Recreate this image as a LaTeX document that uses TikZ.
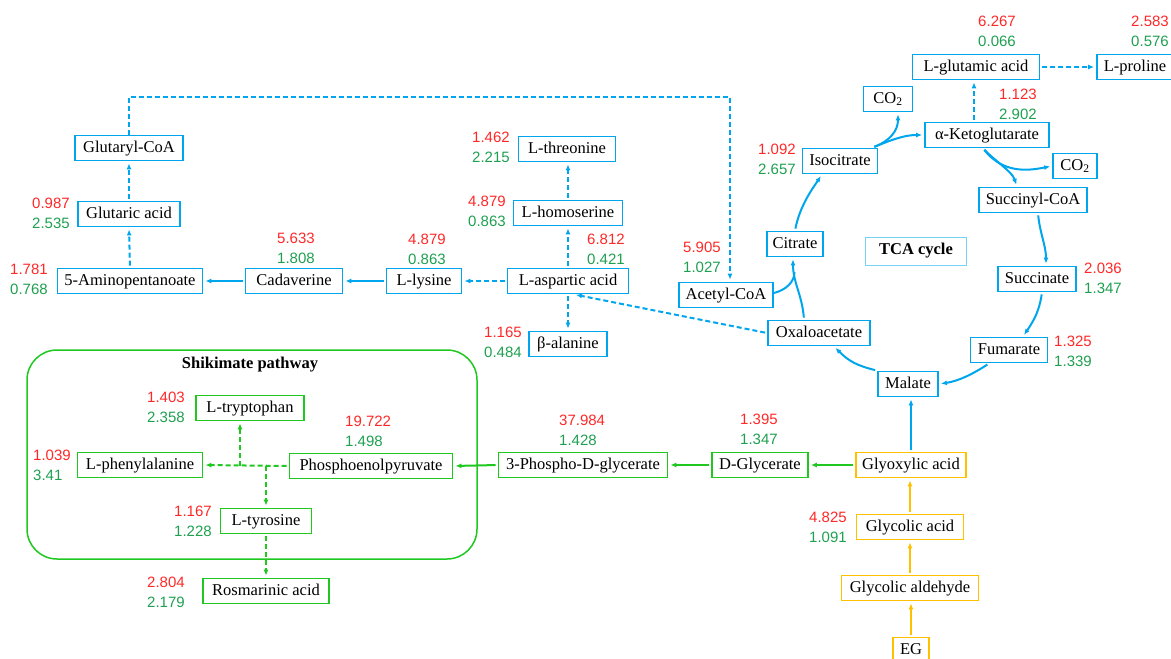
\documentclass[tikz,border=0pt]{standalone}
\usepackage{fontspec}
\setmainfont{Liberation Serif}
\newfontfamily\numfont{Liberation Sans}
\usetikzlibrary{arrows.meta}
\definecolor{cblue}{RGB}{0,166,237}
\definecolor{cgreen}{RGB}{30,200,30}
\definecolor{cyellow}{RGB}{255,192,0}
\definecolor{nred}{RGB}{255,40,40}
\definecolor{ngreen}{RGB}{30,160,80}
\definecolor{tcab}{RGB}{120,210,245}
\newcommand\numpair[2]{\textcolor{nred}{#1}\\\textcolor{ngreen}{#2}}
\begin{document}
\begin{tikzpicture}[x=1pt,y=-1pt,
  box/.style={draw, line width=1.8pt, fill=white, font=\fontsize{16.5}{18}\selectfont,
    minimum height=25pt, inner xsep=3pt, inner ysep=0pt, text height=11.5pt, text depth=3.5pt},
  bbox/.style={box,draw=cblue},
  gbox/.style={box,draw=cgreen},
  ybox/.style={box,draw=cyellow},
  num/.style={font=\numfont\fontsize{15}{20}\selectfont, align=center, inner sep=0pt},
  ar/.style={-{Latex[length=6pt,width=5pt]}, line width=2pt, shorten <=2pt, shorten >=2pt},
  bsol/.style={ar, color=cblue},
  bline/.style={line width=2pt, color=cblue},
  bdash/.style={ar, color=cblue, dash pattern=on 5pt off 3pt},
  gsol/.style={ar, color=cgreen},
  gdash/.style={ar, color=cgreen, dash pattern=on 5pt off 3pt},
  ysol/.style={ar, color=cyellow}]
\useasboundingbox (0,0) rectangle (1171,659);

% Shikimate frame
\draw[cgreen, line width=1.5pt, rounded corners=30pt] (27,350) rectangle (477,559);
\node[font=\bfseries\fontsize{16.5}{18}\selectfont] (shik) at (250,365) {Shikimate pathway};

% blue nodes
\node[bbox,minimum width=108pt] (glutcoa) at (129,148) {Glutaryl-CoA};
\node[bbox,minimum width=102pt] (glutar) at (129,214) {Glutaric acid};
\node[bbox,minimum width=145pt] (amino) at (130,281) {5-Aminopentanoate};
\node[bbox,minimum width=97pt] (cad) at (294,281) {Cadaverine};
\node[bbox,minimum width=75pt] (lys) at (424,281) {L-lysine};
\node[bbox,minimum width=121pt] (asp) at (568,281) {L-aspartic acid};
\node[bbox,minimum width=109pt] (hom) at (568,213) {L-homoserine};
\node[bbox,minimum width=97pt] (thr) at (567,149) {L-threonine};
\node[bbox,minimum width=78pt] (bala) at (568,344) {β-alanine};
\node[bbox,minimum width=94pt] (acet) at (726,295) {Acetyl-CoA};
\node[bbox,minimum width=102pt] (oxa) at (819,333) {Oxaloacetate};
\node[bbox,minimum width=56pt] (cit) at (795,244) {Citrate};
\node[bbox,minimum width=75pt] (iso) at (840,161) {Isocitrate};
\node[bbox,minimum width=49pt] (co2a) at (888,99) {CO\textsubscript{2}};
\node[bbox,minimum width=124pt] (akg) at (987,135) {α-Ketoglutarate};
\node[bbox,minimum width=127pt] (glu) at (976,67) {L-glutamic acid};
\node[bbox,minimum width=76pt] (pro) at (1135,67) {L-proline};
\node[bbox,minimum width=44pt] (co2b) at (1075,166) {CO\textsubscript{2}};
\node[bbox,minimum width=108pt] (sca) at (1033,200) {Succinyl-CoA};
\node[bbox,minimum width=78pt] (suc) at (1037,279) {Succinate};
\node[bbox,minimum width=77pt] (fum) at (1009,350) {Fumarate};
\node[bbox,minimum width=60pt] (mal) at (908,384) {Malate};
\node[draw=tcab, line width=1pt, minimum width=101pt, minimum height=28pt,
  font=\bfseries\fontsize{16.5}{18}\selectfont] (tca) at (916,251) {TCA cycle};

% green nodes
\node[gbox,minimum width=108pt] (trp) at (250,408) {L-tryptophan};
\node[gbox,minimum width=125pt] (phe) at (140,465) {L-phenylalanine};
\node[gbox,minimum width=163pt] (pep) at (371,466) {Phosphoenolpyruvate};
\node[gbox,minimum width=91pt] (tyr) at (266,521) {L-tyrosine};
\node[gbox,minimum width=126pt] (ros) at (266,591) {Rosmarinic acid};
\node[gbox,minimum width=169pt] (pg) at (583,465) {3-Phospho-D-glycerate};
\node[gbox,minimum width=96pt] (dgly) at (760,465) {D-Glycerate};

% yellow nodes
\node[ybox,minimum width=110pt] (glyox) at (911,465) {Glyoxylic acid};
\node[ybox,minimum width=107pt] (glyc) at (910,527) {Glycolic acid};
\node[ybox,minimum width=137pt] (glyald) at (910,588) {Glycolic aldehyde};
\node[ybox,minimum width=36pt] (eg) at (911,650) {EG};

% numbers
\node[num] (nglutar) at (51,213) {\numpair{0.987}{2.535}};
\node[num] (namino) at (29,279) {\numpair{1.781}{0.768}};
\node[num] (ncad) at (296,248) {\numpair{5.633}{1.808}};
\node[num] (nlys) at (427,249) {\numpair{4.879}{0.863}};
\node[num] (nasp) at (606,249) {\numpair{6.812}{0.421}};
\node[num] (nhom) at (487,211) {\numpair{4.879}{0.863}};
\node[num] (nthr) at (491,147) {\numpair{1.462}{2.215}};
\node[num] (nbala) at (503,342) {\numpair{1.165}{0.484}};
\node[num] (nacet) at (702,257) {\numpair{5.905}{1.027}};
\node[num] (niso) at (777,159) {\numpair{1.092}{2.657}};
\node[num] (nglu) at (997,31) {\numpair{6.267}{0.066}};
\node[num] (npro) at (1150,31) {\numpair{2.583}{0.576}};
\node[num] (nakg) at (1018,104) {\numpair{1.123}{2.902}};
\node[num] (nsuc) at (1103,278) {\numpair{2.036}{1.347}};
\node[num] (nfum) at (1073,351) {\numpair{1.325}{1.339}};
\node[num] (ntrp) at (166,407) {\numpair{1.403}{2.358}};
\node[num,align=left,anchor=west] (nphe) at (33,465) {\numpair{1.039}{3.41}};
\node[num,align=left,anchor=west] (npep) at (345,431) {\numpair{19.722}{1.498}};
\node[num,align=left,anchor=west] (npg) at (559,430) {\numpair{37.984}{1.428}};
\node[num] (ndgly) at (759,429) {\numpair{1.395}{1.347}};
\node[num] (ntyr) at (193,521) {\numpair{1.167}{1.228}};
\node[num] (nros) at (166,592) {\numpair{2.804}{2.179}};
\node[num] (nglyc) at (828,527) {\numpair{4.825}{1.091}};

% helper coordinates
\coordinate (topline) at (0,97);
\coordinate (j1) at (794.5,272);

% lysine branch
\draw[bdash] (asp.west) -- (lys.east);
\draw[bsol] (lys.west) -- (cad.east);
\draw[bsol] (cad.west) -- (amino.east);
\draw[bdash] (amino.north) -- (glutar.south);
\draw[bdash] (glutar.north) -- (glutcoa.south);
\draw[bdash, shorten <=0pt] (glutcoa.north) -- (glutcoa.north |- topline) -| ([xshift=4pt]acet.north);
\draw[bdash] (asp.north) -- (hom.south);
\draw[bdash] (hom.north) -- (hom.north |- thr.south);
\draw[bdash] (asp.south) -- (bala.north);
\draw[bdash] (oxa.west) -- ([xshift=6pt]asp.south);
\draw[bdash] ([xshift=-2pt]glu.south |- akg.north) -- ([xshift=-2pt]glu.south);
\draw[bdash] (glu.east) -- (pro.west);

% TCA cycle
\draw[bsol] ([xshift=-15pt]oxa.north) .. controls +(-2,-25) and +(0,25) .. ([xshift=-2pt]cit.south);
\draw[bline] ([yshift=2pt]acet.east) .. controls +(12,-3) and +(0,10) .. (j1);
\draw[bsol] (cit.north) .. controls +(5,-25) and +(-10,15) .. ([xshift=-18pt]iso.south);
\draw[bsol] ([xshift=-6pt]iso.north east) .. controls +(20,-8) and +(-20,0) .. (akg.west);
\draw[bsol] ([xshift=-6pt]iso.north east) .. controls +(18,-7) and +(0,18) .. ([xshift=10pt]co2a.south);
\draw[bsol] ([xshift=-4pt]akg.south) .. controls +(15,15) and +(-5,-15) .. ([xshift=-16pt]sca.north);
\draw[bsol] ([xshift=-4pt]akg.south) .. controls +(20,25) and +(-25,5) .. (co2b.west);
\draw[bsol] ([xshift=5pt]sca.south) .. controls +(2,20) and +(0,-20) .. ([xshift=9pt]suc.north);
\draw[bsol] ([xshift=5pt]suc.south) .. controls +(-3,20) and +(10,-15) .. ([xshift=14pt]fum.north);
\draw[bsol] ([xshift=-20pt]fum.south) .. controls +(-15,10) and +(20,-3) .. (mal.east);
\draw[bsol] (mal.north west) .. controls +(-20,-5) and +(15,15) .. ([xshift=15pt]oxa.south);

% glyoxylate
\draw[bsol] (glyox.north) -- (glyox.north |- mal.south);
\draw[gsol] (glyox.west) -- (dgly.east);
\draw[gsol] (dgly.west) -- (pg.east);
\draw[gsol] (pg.west) -- (pep.east);
\draw[ysol] (glyc.north) -- (glyc.north |- glyox.south);
\draw[ysol] (glyald.north) -- (glyald.north |- glyc.south);
\draw[ysol] (eg.north) -- (eg.north |- glyald.south);

% shikimate
\draw[gdash] (pep.west) -- (phe.east);
\draw[gdash, shorten <=0pt] ([xshift=-10pt]trp.south |- pep.west) -- ([xshift=-10pt]trp.south);
\draw[gdash, shorten <=0pt] (tyr.north |- pep.west) -- (tyr.north);
\draw[gdash] (tyr.south) -- (tyr.south |- ros.north);
\end{tikzpicture}
\end{document}
